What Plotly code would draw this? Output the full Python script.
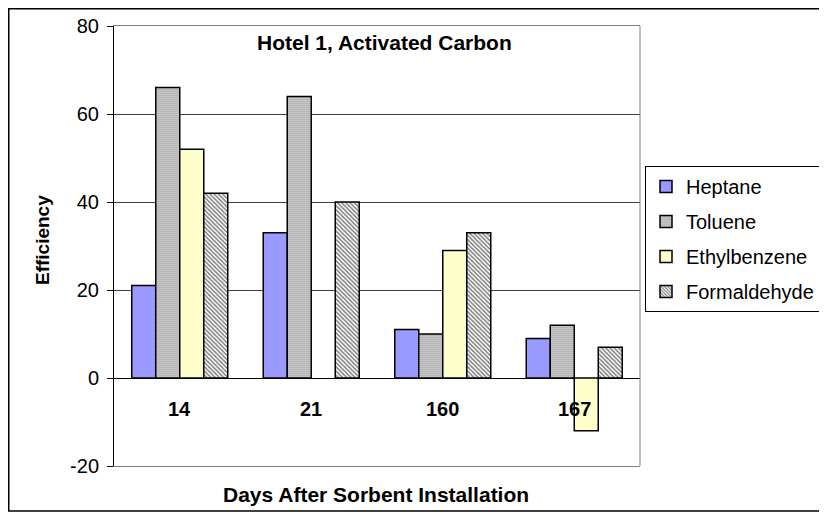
import plotly.graph_objects as go

categories = ["14", "21", "160", "167"]
heptane = [21, 33, 11, 9]
toluene = [66, 64, 10, 12]
ethylbenzene = [52, None, 29, -12]
formaldehyde = [42, 40, 33, 7]
y_ticks = [-20, 0, 20, 40, 60, 80]
y_tick_text = ["-20", "0", "20", "40", "60", "80"]

# page body has an 8px margin, so work in reference pixels minus 8
O = 8
W, H = 827 - O, 518 - O
L, R, T, B = 114 - O, 640 - O, 26 - O, 466 - O

def px(x):
    return (x - O - L) / (R - L)

def py(y):
    return (B - (y - O)) / (B - T)

fig = go.Figure()
line = dict(color="black", width=1.5)
fig.add_trace(go.Bar(name="Heptane", x=categories, y=heptane, legendgroup="a",
                     marker=dict(color="#9999FF", line=line)))
fig.add_trace(go.Bar(name="Toluene", x=categories, y=toluene, legendgroup="b",
                     marker=dict(color="white", line=line,
                                 pattern=dict(shape=".", fgcolor="#000000", bgcolor="white",
                                              size=2, solidity=0.6))))
fig.add_trace(go.Bar(name="Ethylbenzene", x=categories, y=ethylbenzene, legendgroup="c",
                     marker=dict(color="#FFFFCC", line=line)))
fig.add_trace(go.Bar(name="Formaldehyde", x=categories, y=formaldehyde, legendgroup="d",
                     marker=dict(color="white", line=line,
                                 pattern=dict(shape="\\", fgcolor="#000000", bgcolor="white",
                                              size=3, solidity=0.5))))

# category labels sit inside the plot, just under the zero line
for i, c in enumerate(categories):
    fig.add_annotation(x=i, y=-7, xref="x", yref="y", text=f"<b>{c}</b>",
                       showarrow=False, xanchor="center", yanchor="middle",
                       font=dict(size=20, color="black"))

fig.add_annotation(x=px(384), y=py(42), xref="paper", yref="paper",
                   text="<b>Hotel 1, Activated Carbon</b>", showarrow=False,
                   xanchor="center", yanchor="middle",
                   font=dict(size=21, color="black"))
fig.add_annotation(x=px(376), y=py(494), xref="paper", yref="paper",
                   text="<b>Days After Sorbent Installation</b>", showarrow=False,
                   xanchor="center", yanchor="middle",
                   font=dict(size=21, color="black"))
fig.add_annotation(x=px(42), y=py(240), xref="paper", yref="paper",
                   text="<b>Efficiency</b>", showarrow=False, textangle=-90,
                   xanchor="center", yanchor="middle",
                   font=dict(size=19, color="black"))

# outer border
fig.add_shape(type="rect", xref="paper", yref="paper",
              x0=px(8.75), x1=px(820), y0=py(511), y1=py(8.75),
              line=dict(color="black", width=1.5))
# right plot border
fig.add_shape(type="line", xref="paper", yref="paper",
              x0=1, x1=1, y0=0, y1=1, line=dict(color="#808080", width=1))

fig.update_layout(
    width=W, height=H,
    margin=dict(l=L, r=W - R, t=T, b=H - B, autoexpand=False),
    paper_bgcolor="white", plot_bgcolor="white",
    font=dict(family="Liberation Sans, Arial", color="black"),
    barmode="group", bargap=0.27, bargroupgap=0,
    showlegend=True,
    legend=dict(x=px(645), y=py(166), xanchor="left", yanchor="top",
                bordercolor="black", borderwidth=1, bgcolor="white",
                font=dict(size=20), tracegroupgap=6, traceorder="grouped"),
    xaxis=dict(type="category", categoryorder="array", categoryarray=categories,
               range=[-0.5, len(categories) - 0.5],
               showticklabels=False, ticks="", showline=True,
               mirror=True, linecolor="#808080", linewidth=1, showgrid=False),
    yaxis=dict(range=[-20, 80], tickvals=y_ticks, ticktext=y_tick_text,
               ticks="outside", ticklen=6,
               tickcolor="black", showline=True, linecolor="black", linewidth=1,
               showgrid=True, gridcolor="#404040", gridwidth=1,
               zeroline=True, zerolinecolor="black", zerolinewidth=1,
               tickfont=dict(size=20), ticklabelstandoff=4),
)

fig.write_html("out.html")
